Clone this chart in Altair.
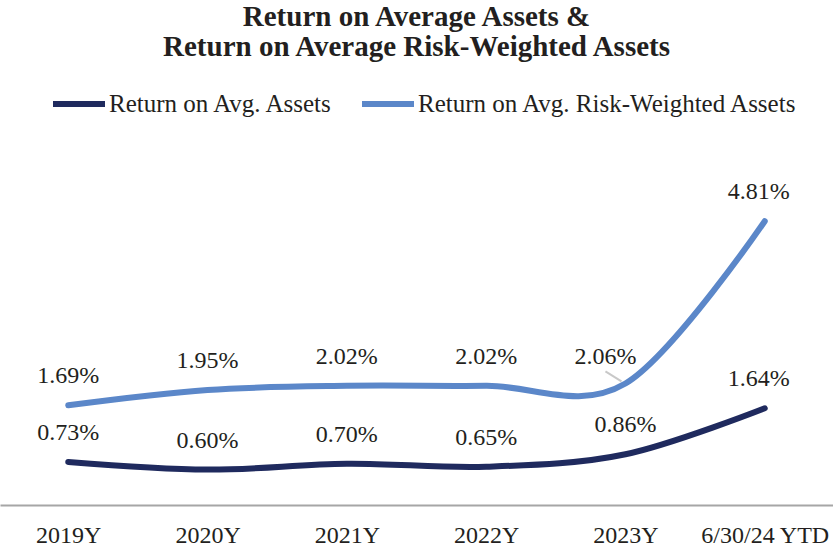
import altair as alt
import pandas as pd

years = ["2019Y", "2020Y", "2021Y", "2022Y", "2023Y", "6/30/24 YTD"]
roaa = [0.73, 0.60, 0.70, 0.65, 0.86, 1.64]
rorwa = [1.69, 1.95, 2.02, 2.02, 2.06, 4.81]
series_names = ["Return on Avg. Assets", "Return on Avg. Risk-Weighted Assets"]
series_colors = ["#1f2a5e", "#5b87c9"]

rows = []
for name, vals in zip(series_names, [roaa, rorwa]):
    for yr, v in zip(years, vals):
        rows.append({"year": yr, "value": v, "series": name})
df = pd.DataFrame(rows)

FONT = "Liberation Serif"
TXT = "#231f20"

x_enc = alt.X("year:N", sort=years,
              scale=alt.Scale(type="point", padding=0.49),
              axis=alt.Axis(title=None, labelAngle=0, ticks=False, grid=False,
                            domainColor="#a6a6a6", domainWidth=2,
                            labelFont=FONT, labelFontSize=24, labelColor=TXT,
                            labelPadding=18))
y_enc = alt.Y("value:Q", scale=alt.Scale(domain=[0, 6]), axis=None)

base = alt.Chart(df)

lines = base.mark_line(interpolate="cardinal", tension=0, strokeWidth=6,
                       strokeCap="round").encode(
    x=x_enc, y=y_enc,
    color=alt.Color("series:N", sort=series_names,
                    scale=alt.Scale(domain=series_names, range=series_colors),
                    legend=alt.Legend(title=None, orient="none", direction="horizontal",
                                      legendX=50, legendY=-76,
                                      symbolType="stroke", symbolSize=2704,
                                      symbolStrokeWidth=6, labelOffset=1,
                                      columnPadding=16,
                                      labelFont=FONT, labelFontSize=25,
                                      labelColor=TXT, labelLimit=500)),
)

is_special = "datum.series == 'Return on Avg. Risk-Weighted Assets' && datum.year == '2023Y'"
is_last = "datum.year == '6/30/24 YTD'"

labels = base.transform_filter("!(" + is_special + ") && !(" + is_last + ")").transform_calculate(
    label="format(datum.value, '.2f') + '%'"
).mark_text(font=FONT, fontSize=24, color=TXT, baseline="middle", dy=-29).encode(
    x=x_enc, y=y_enc, text="label:N")

last_labels = base.transform_filter(is_last).transform_calculate(
    label="format(datum.value, '.2f') + '%'"
).mark_text(font=FONT, fontSize=24, color=TXT, baseline="middle", dy=-29, dx=-6).encode(
    x=x_enc, y=y_enc, text="label:N")

special = base.transform_filter(is_special).transform_calculate(
    label="format(datum.value, '.2f') + '%'"
).mark_text(font=FONT, fontSize=24, color=TXT, baseline="middle", dy=-26, dx=-20).encode(
    x=x_enc, y=y_enc, text="label:N")

leader = base.transform_filter(is_special).mark_rule(
    color="#c8c8c8", strokeWidth=2, xOffset=-4, yOffset=-2, x2Offset=-20, y2Offset=-12
).encode(x=x_enc, y=y_enc, x2="year:N", y2="value:Q")

chart = alt.layer(lines, leader, labels, last_labels, special).properties(
    width=833, height=354,
    autosize=alt.AutoSizeParams(type="none"),
    padding={"top": 151, "bottom": 44, "left": 0, "right": 0},
    title=alt.TitleParams(
        text=["Return on Average Assets &", "Return on Average Risk-Weighted Assets"],
        font=FONT, fontSize=29, fontWeight="bold", color=TXT,
        anchor="middle", lineHeight=30, offset=13),
).configure(background="white").configure_view(stroke=None, strokeWidth=0)

chart.save("out.html", embed_options={"renderer": "svg", "actions": False})
